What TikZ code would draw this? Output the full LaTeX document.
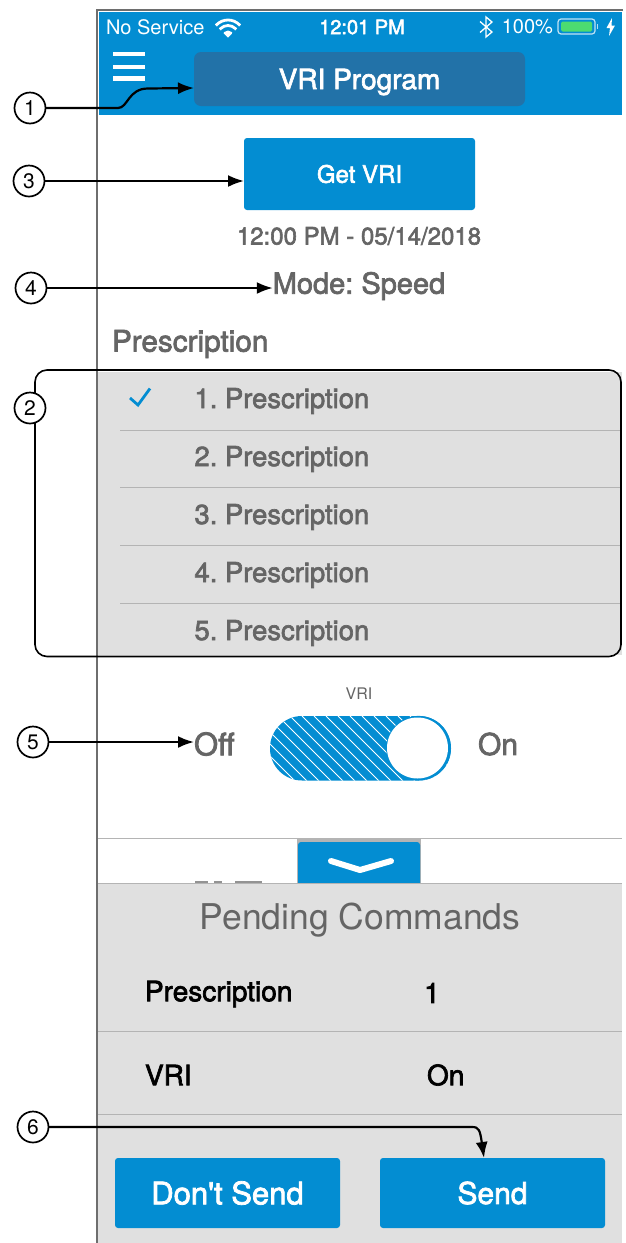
\documentclass[tikz,border=0pt]{standalone}
\usepackage{fontspec}
\setmainfont{TeX Gyre Heros}
\newfontfamily\medf[FakeBold=2.4]{TeX Gyre Heros}
\usetikzlibrary{arrows.meta,shapes.geometric}
\definecolor{hblue}{HTML}{038DD2}
\definecolor{dblue}{HTML}{2272A8}
\definecolor{panel}{HTML}{E0E0E0}
\definecolor{txt}{HTML}{656565}
\definecolor{sep}{HTML}{B4B4B4}
\definecolor{frame}{HTML}{6E6E6E}
\newcommand{\fs}[1]{\fontsize{#1}{#1}\selectfont\frenchspacing}
\tikzset{
  every node/.style={inner sep=0pt,outer sep=0pt},
  callout/.style={circle,draw=black,fill=white,line width=1.7pt,minimum size=31pt,font=\fs{21}},
  conn/.style={draw=black,line width=2.2pt,-{Latex[length=16pt,width=12pt]}},
  bluebtn/.style={fill=hblue,rounded corners=3pt,text=white},
  med/.style={text=txt,font=\medf\fs{#1}},
  plain/.style={text=txt,font=\fs{#1}},
  blk/.style={text=black,font=\medf\fs{#1}},
  stat/.style={text=white,font=\fs{#1}},
  seprule/.style={draw=sep,line width=0.9pt},
}
\begin{document}
\begin{tikzpicture}[x=1pt,y=-1pt]
\useasboundingbox (0,0) rectangle (625,1243);
\fill[white] (0,0) rectangle (625,1243);
% header
\fill[hblue] (99,12) rectangle (622,115);
\draw[frame,line width=1.4pt] (97,1243) -- (97,10) -- (623,10);
\fill[white] (113,51.5) rectangle (145,56);
\fill[white] (113,64.5) rectangle (145,69);
\fill[white] (113,76) rectangle (145,80.5);
\node[stat=20,anchor=west] (nosvc) at (106,27) {No Service};
% wifi
\begin{scope}
\clip (228,37.5) -- (205,14.5) -- (251,14.5) -- cycle;
\fill[white] (228,36) circle[radius=5.5];
\draw[white,line width=2.8pt] (228,36) circle[radius=10.5];
\draw[white,line width=2.8pt] (228,36) circle[radius=16];
\end{scope}
\node[text=white,font=\medf\fs{20}] (clock) at (362,27) {12:01 PM};
\draw[white,line width=1.3pt] (480,21.5) -- (492,32) -- (486,37) -- (486,17) -- (492,22) -- (480,32.5);
\node[stat=20,anchor=east] (pct) at (553,27) {100\%};
\draw[white!75!hblue,line width=1.2pt,rounded corners=3pt] (558,19) rectangle (595,34);
\fill[green!60!teal!70!white,rounded corners=1.5pt] (561,21.5) rectangle (592,31.5);
\fill[white!70!hblue] (596.5,24) rectangle (598,29);
\fill[white] (612,18) -- (606.5,28) -- (610,28) -- (609,36) -- (615,25.5) -- (611.5,25.5) -- cycle;
\node[fill=dblue,rounded corners=7pt,minimum width=331pt,minimum height=54pt] (title) at (359.5,79) {};
\node[text=white,font=\medf\fs{28}] (titletxt) at (359.5,82) {VRI Program};
% get VRI
\node[bluebtn,minimum width=231pt,minimum height=72pt,font=\medf\fs{24}] (getvri) at (359.5,174) {Get VRI};
\node[med=24] (stamp) at (359,236) {12:00 PM - 05/14/2018};
\node[med=29] (mode) at (359,286) {Mode: Speed};
\node[med=29.7,anchor=west] (presc) at (112,344) {Prescription};
% list panel
\fill[panel] (98,372) rectangle (622,655);
\foreach \y in {430,487.5,545,603} \draw[seprule] (120,\y) -- (620,\y);
\draw[hblue,line width=2.8pt] (130,398) -- (138,405) -- (150,388.5);
\node[med=27.4,anchor=west] (p1) at (194.5,401) {1. Prescription};
\node[med=27.4,anchor=west] (p2) at (194.5,459) {2. Prescription};
\node[med=27.4,anchor=west] (p3) at (194.5,517) {3. Prescription};
\node[med=27.4,anchor=west] (p4) at (194.5,575) {4. Prescription};
\node[med=27.4,anchor=west] (p5) at (194.5,633) {5. Prescription};
\draw[black,line width=1.6pt,rounded corners=12pt] (35,370) rectangle (621,656.5);
% toggle
\node[plain=16] (vrilbl) at (359,694) {VRI};
\node[med=31,anchor=west] (off) at (194,744) {Off};
\node[med=30,anchor=east] (on) at (518,744) {On};
\fill[hblue,rounded corners=32pt] (270,716) rectangle (451,780.5);
\begin{scope}
\clip[rounded corners=32pt] (270,716) rectangle (451,780.5);
\foreach \x in {-70,-58,...,420} \draw[white,line width=0.8pt] (\x,716) -- (\x+65,781);
\end{scope}
\fill[hblue] (418.5,748.2) circle[radius=32.3];
\fill[white] (417.5,748) circle[radius=30.5];
% divider and tab
\draw[seprule] (98,838.5) -- (622,838.5);
\fill[sep] (297,839) rectangle (421,883);
\fill[hblue,rounded corners=3pt] (298,842) rectangle (420,890);
\draw[white,line width=6pt,line cap=round,line join=round] (331,861) -- (360,870) -- (391,861);
\fill[txt!70!white] (195,881) rectangle (208,883);
\fill[txt!70!white] (214,881) rectangle (222,883);
\fill[txt!70!white] (235,881) rectangle (262,883);
% pending panel
\fill[panel] (98.2,883) rectangle (622,1243);
\draw[sep,line width=1pt] (98,883) -- (622,883);
\draw[frame,line width=1.4pt] (97,883) -- (97,1243);
\node[plain=35.5] (pend) at (360,920) {Pending Commands};
\node[blk=28,anchor=west] (cmd1) at (145,994) {Prescription};
\node[blk=28] (val1) at (432,993) {1};
\draw[seprule] (98,1031.5) -- (622,1031.5);
\node[blk=28,anchor=west] (cmd2) at (145,1075) {VRI};
\node[blk=28,anchor=west] (val2) at (427,1075) {On};
\draw[seprule] (98,1114) -- (622,1114);
\node[bluebtn,minimum width=225pt,minimum height=70pt,font=\medf\fs{31}] (dont) at (227.5,1193) {Don't Send};
\node[bluebtn,minimum width=225pt,minimum height=70pt,font=\medf\fs{30}] (send) at (492.5,1193) {Send};
% callouts
\node[callout] (c1) at (30,108) {1};
\node[callout] (c2) at (30,408) {2};
\node[callout] (c3) at (29,181) {3};
\node[callout] (c4) at (31,288) {4};
\node[callout] (c5) at (33,742) {5};
\node[callout] (c6) at (33,1127) {6};
\coordinate (t1) at (title.west |- 0,88);
\coordinate (t3) at (getvri.west |- c3);
\coordinate (t4) at (mode.west |- c4);
\coordinate (t5) at (off.west |- c5);
\coordinate (t6) at (484,1158);
\draw[conn] (c1.east) -- (118,108) .. controls (128,108) and (128,88.5) .. (148,88.5) -- (t1);
\draw[conn] (c3) -- (t3);
\draw[conn] (c4) -- (t4);
\draw[conn] (c5) -- (t5);
\draw[conn] (c6.east) -- (472,1127) .. controls (479,1127) and (480,1130) .. (t6);
\end{tikzpicture}
\end{document}
